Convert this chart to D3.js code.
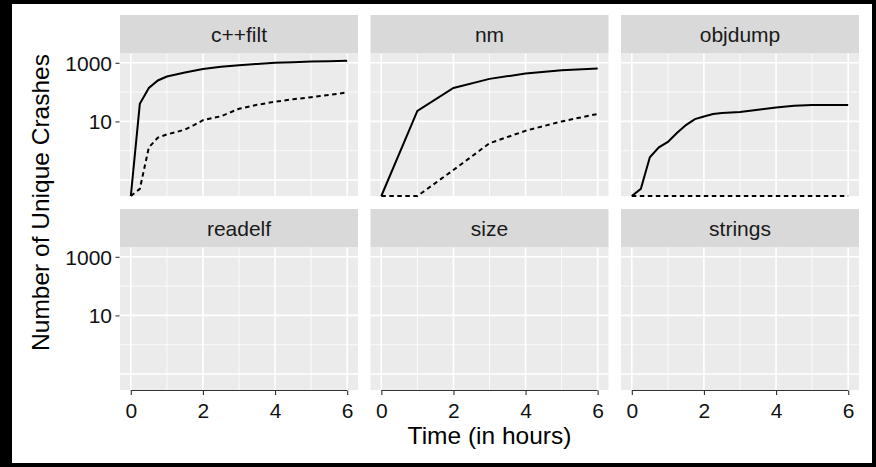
<!DOCTYPE html>
<html>
<head>
<meta charset="utf-8">
<script src="https://cdn.jsdelivr.net/npm/d3@7"></script>
<style>
  body { margin: 0; background: #000; }
  svg { display: block; }
  text { font-family: "Liberation Sans", Arial, sans-serif; }
</style>
</head>
<body>
<svg width="876" height="467"></svg>
<script>
// facets, in reading order
const panels = ["c++filt", "nm", "objdump", "readelf", "size", "strings"];

// time grid (hours); null = no point at that time
const hours = [0, 0.25, 0.5, 0.75, 1, 1.25, 1.5, 1.75, 2, 2.25, 2.5, 3, 3.5, 4, 4.5, 5, 5.5, 6];

const cppfiltSolid  = [0, 40, 139, 250, 340, null, 470, null, 610, null, 730, 830, 920, 1000, 1050, 1100, 1140, 1170];
const cppfiltDashed = [0, 0.05, 1.3, 2.8, 3.6, 4.3, 5.3, 7.5, 11, null, 15, 27, 37, 47, 57, 67, 80, 98];
const nmSolid       = [0, null, null, null, 23, null, null, null, 139, null, null, 283, null, 430, null, 560, null, 640];
const nmDashed      = [0, null, null, null, 0, null, null, null, 0.22, null, null, 1.8, null, 4.8, null, 10, null, 18];
const objdumpSolid  = [0, 0.05, 0.6, 1.3, 2.0, 4.0, 7.5, 12, 14.8, 18, 19.4, 21, 25, 30, 34, 36, 36, 36];
const objdumpDashed = [0, 0, 0, 0, 0, 0, 0, 0, 0, 0, 0, 0, 0, 0, 0, 0, 0, 0];

// axis ticks / grid
const xLabels = [0, 2, 4, 6];
const xMinor = [1, 3, 5];
const yLabels = [10, 1000];
const yMajor = [0.1, 10, 1000];
const yMinor = [1, 100];

const series = [
    { panel: "c++filt", dashed: false, values: cppfiltSolid },
    { panel: "c++filt", dashed: true,  values: cppfiltDashed },
    { panel: "nm",      dashed: false, values: nmSolid },
    { panel: "nm",      dashed: true,  values: nmDashed },
    { panel: "objdump", dashed: false, values: objdumpSolid },
    { panel: "objdump", dashed: true,  values: objdumpDashed }
];

const svg = d3.select("svg");

// white plot background inside the black frame
svg.append("rect")
    .attr("x", 12).attr("y", 4)
    .attr("width", 860).attr("height", 459)
    .attr("fill", "#fff");

const marginLeft = 120, marginTop = 15;
const panelW = 238, colGap = 12.5;
const stripH = 38.5, panelH = 142.5, rowGap = 13;
const smallFont = 21;

const x = d3.scaleLinear().domain([-0.3, 6.3]).range([0, panelW]);
const y = d3.scaleLog().domain([Math.pow(10, -1.545), Math.pow(10, 3.318)]).range([panelH, 0]);
const yv = v => v <= 0 ? y(y.domain()[0]) : y(v);

const line = d3.line()
    .x(d => x(d.t))
    .y(d => yv(d.v));

panels.forEach((name, i) => {
    const col = i % 3, row = Math.floor(i / 3);
    const gx = marginLeft + col * (panelW + colGap);
    const gy = marginTop + row * (stripH + panelH + rowGap);

    const g = svg.append("g").attr("transform", `translate(${gx},${gy})`);

    // strip
    g.append("rect")
        .attr("width", panelW).attr("height", stripH)
        .attr("fill", "#d9d9d9");
    g.append("text")
        .attr("x", panelW / 2).attr("y", stripH / 2 + 7.5)
        .attr("text-anchor", "middle")
        .attr("font-size", smallFont)
        .attr("fill", "#1a1a1a")
        .text(name);

    const p = g.append("g").attr("transform", `translate(0,${stripH})`);
    p.append("rect")
        .attr("width", panelW).attr("height", panelH)
        .attr("fill", "#ebebeb");

    // grid
    p.selectAll(".hminor").data(yMinor).enter().append("line")
        .attr("x1", 0).attr("x2", panelW)
        .attr("y1", d => y(d)).attr("y2", d => y(d))
        .attr("stroke", "#fff").attr("stroke-width", 0.8);
    p.selectAll(".vminor").data(xMinor).enter().append("line")
        .attr("y1", 0).attr("y2", panelH)
        .attr("x1", d => x(d)).attr("x2", d => x(d))
        .attr("stroke", "#fff").attr("stroke-width", 0.8);
    p.selectAll(".hmajor").data(yMajor).enter().append("line")
        .attr("x1", 0).attr("x2", panelW)
        .attr("y1", d => y(d)).attr("y2", d => y(d))
        .attr("stroke", "#fff").attr("stroke-width", 1.6);
    p.selectAll(".vmajor").data(xLabels).enter().append("line")
        .attr("y1", 0).attr("y2", panelH)
        .attr("x1", d => x(d)).attr("x2", d => x(d))
        .attr("stroke", "#fff").attr("stroke-width", 1.6);

    // lines
    series.filter(s => s.panel === name).forEach(s => {
        const pts = hours.map((t, k) => ({ t: t, v: s.values[k] }))
            .filter(d => d.v !== null);
        p.append("path")
            .datum(pts)
            .attr("d", line)
            .attr("fill", "none")
            .attr("stroke", "#000")
            .attr("stroke-width", 2)
            .attr("stroke-dasharray", s.dashed ? "4.5,3.5" : null);
    });

    // y axis on the first column
    if (col === 0) {
        const ya = p.append("g")
            .attr("transform", "translate(-0.5,0)")
            .call(d3.axisLeft(y).tickValues(yLabels).tickSize(4).tickPadding(3.5)
                .tickFormat(d3.format("d")));
        ya.select(".domain").remove();
        ya.selectAll("line").attr("stroke", "#333").attr("stroke-width", 1.1);
        ya.selectAll("text")
            .attr("font-size", smallFont)
            .attr("fill", "#111")
            .attr("dy", "0.36em");
    }

    // x axis on the bottom row
    if (row === 1) {
        const xa = p.append("g")
            .attr("transform", `translate(0,${panelH + 0.5})`)
            .call(d3.axisBottom(x).tickValues(xLabels).tickSize(4.5).tickPadding(8)
                .tickFormat(d3.format("d")));
        xa.select(".domain").remove();
        xa.append("line")
            .attr("x1", x(0)).attr("x2", x(6))
            .attr("stroke", "#333").attr("stroke-width", 1.1);
        xa.selectAll(".tick line").attr("stroke", "#333").attr("stroke-width", 1.1);
        xa.selectAll("text")
            .attr("font-size", smallFont)
            .attr("fill", "#111");
    }
});

// axis titles
const plotMidX = marginLeft + (3 * panelW + 2 * colGap) / 2;
svg.append("text")
    .attr("x", plotMidX).attr("y", 444)
    .attr("text-anchor", "middle")
    .attr("font-size", 24.5)
    .attr("fill", "#000")
    .text("Time (in hours)");

const plotMidY = marginTop + (2 * (stripH + panelH) + rowGap) / 2;
svg.append("text")
    .attr("transform", `translate(49,${plotMidY}) rotate(-90)`)
    .attr("text-anchor", "middle")
    .attr("font-size", 24.5)
    .attr("fill", "#000")
    .text("Number of Unique Crashes");
</script>
</body>
</html>
